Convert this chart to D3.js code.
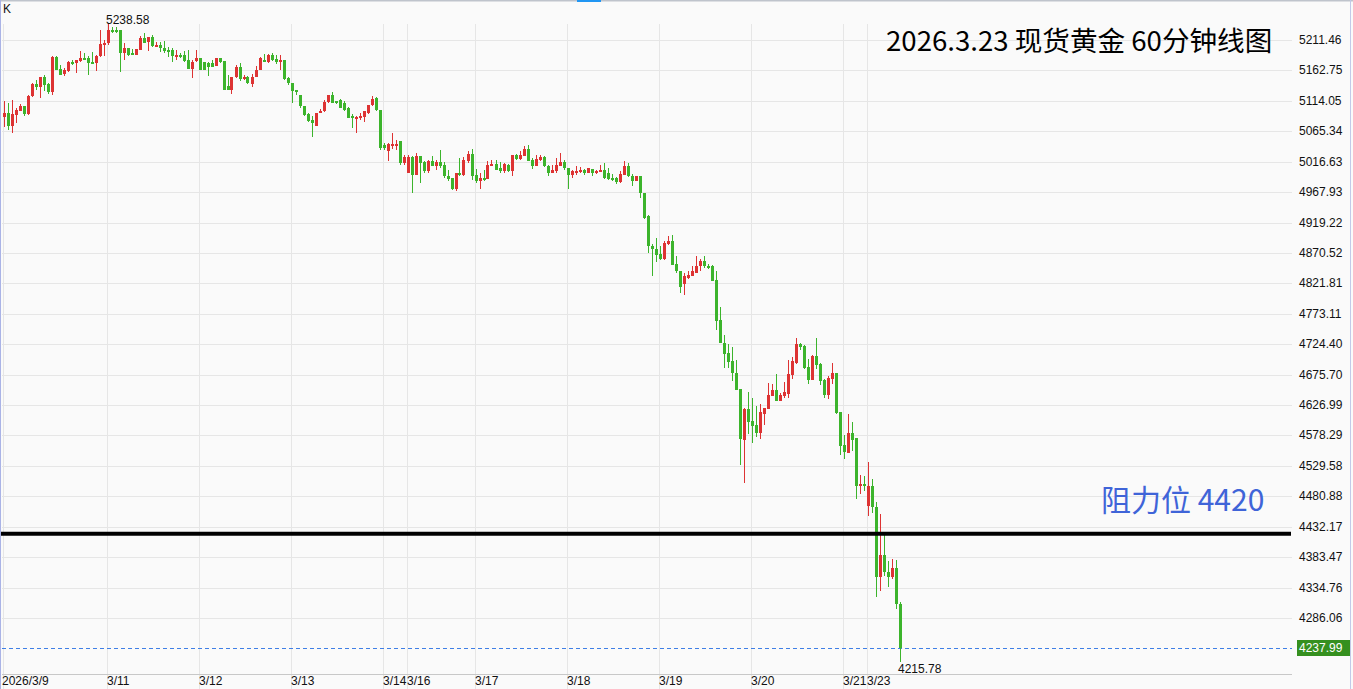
<!DOCTYPE html>
<html lang="zh">
<head>
<meta charset="utf-8">
<title>现货黄金 60分钟线图</title>
<script src="https://cdn.jsdelivr.net/npm/d3@7"></script>
<style>
  html, body { margin: 0; padding: 0; background: #fafafa; overflow: hidden; }
  svg { display: block; }
  .axis-text { font-family: "Liberation Sans", Arial, sans-serif; font-size: 12px; fill: #111; }
</style>
</head>
<body>
<div id="chart"></div>
<script>
var width = 1353, height = 689;

// 60-minute candles
var open = [5088,5094,5073,5092,5098,5105,5093,5122,5141,5137,5152,5141,5129,5185,5165,5157,5162,5177,5174,5178,
  5182,5182,5176,5174,5186,5204,5206,5227,5227,5227,5190,5198,5190,5187,5196,5215,5208,5216,5203,5203,
  5198,5196,5195,5186,5187,5187,5180,5165,5178,5183,5176,5175,5174,5170,5182,5178,5138,5131,5152,5169,
  5149,5153,5141,5153,5164,5180,5176,5187,5181,5176,5179,5150,5142,5131,5123,5105,5093,5083,5074,5094,
  5097,5112,5123,5113,5115,5110,5102,5090,5085,5086,5088,5094,5107,5118,5099,5043,5033,5044,5044,5049,
  5015,4999,5024,4996,5026,5016,5002,5018,5010,5016,5011,4994,4990,4973,4998,4995,5018,5029,4995,4985,
  4990,4989,5010,5013,5006,5001,5011,5001,5027,5021,5026,5037,5019,5009,5019,5024,5010,4999,5001,5010,
  5016,5006,4995,5001,5001,5003,4999,5005,4998,5001,5003,4999,4990,4990,4984,4996,5010,4994,4986,4993,
  4967,4930,4881,4877,4869,4861,4885,4890,4853,4842,4821,4831,4834,4839,4849,4858,4850,4850,4827,4763,
  4727,4710,4698,4679,4652,4571,4621,4601,4595,4582,4613,4621,4641,4651,4633,4641,4645,4675,4695,4725,
  4722,4688,4667,4706,4693,4667,4643,4669,4679,4616,4563,4551,4583,4575,4497,4500,4465,4498,4463,4352,
  4387,4360,4351,4366,4309];
var high = [5113,5110,5115,5102,5109,5106,5124,5142,5147,5153,5155,5142,5186,5186,5171,5166,5178,5180,5180,5194,
  5190,5186,5192,5187,5227,5211,5238.58,5233,5233,5227,5206,5198,5197,5197,5218,5223,5217,5219,5209,5209,
  5210,5201,5199,5195,5191,5194,5195,5179,5195,5183,5177,5177,5180,5183,5183,5178,5156,5153,5171,5174,
  5155,5154,5157,5170,5184,5189,5189,5191,5187,5187,5179,5152,5143,5132,5123,5106,5094,5090,5095,5101,
  5115,5124,5129,5114,5117,5113,5104,5093,5089,5094,5098,5108,5122,5120,5100,5046,5046,5062,5052,5049,
  5028,5028,5026,5030,5026,5018,5019,5026,5019,5035,5016,5003,4991,4999,5022,5024,5034,5037,5005,4998,
  5003,5018,5019,5020,5016,5014,5013,5027,5029,5033,5042,5043,5022,5027,5027,5026,5011,5011,5022,5030,
  5019,5007,5004,5009,5008,5005,5006,5005,5003,5011,5015,5006,4997,4992,5002,5017,5014,4997,4994,4993,
  4967,4931,4885,4894,4881,4890,4898,4899,4865,4842,4839,4842,4849,4866,4861,4866,4853,4851,4842,4784,
  4739,4724,4720,4699,4652,4622,4648,4639,4625,4629,4623,4663,4661,4677,4647,4664,4699,4704,4735,4727,
  4723,4701,4707,4735,4694,4668,4673,4695,4679,4616,4579,4613,4600,4575,4515,4514,4536,4509,4472,4452,
  4419,4377,4380,4379,4311];
var low = [5072,5068,5062,5079,5098,5089,5091,5120,5132,5118,5130,5125,5123,5163,5155,5154,5161,5172,5159,5177,
  5179,5155,5174,5162,5185,5186,5203,5222,5223,5161,5179,5186,5187,5187,5195,5207,5194,5201,5200,5193,
  5191,5185,5176,5179,5182,5177,5165,5150,5177,5163,5163,5154,5168,5170,5175,5131,5131,5125,5151,5146,
  5147,5141,5137,5152,5163,5176,5174,5178,5173,5164,5147,5139,5110,5123,5103,5090,5080,5056,5073,5094,
  5096,5110,5110,5109,5102,5098,5086,5071,5062,5083,5080,5093,5106,5098,5035,5035,5018,5037,5036,5011,
  5011,4999,4967,4996,4983,4998,4998,5010,5003,5006,4991,4985,4971,4970,4993,4994,5014,4987,4983,4973,
  4985,4989,5009,5003,4999,4999,5000,4994,5019,5019,5026,5017,5005,5009,5018,5008,4993,4998,4999,5009,
  5004,4973,4991,4995,4999,4995,4999,4993,4997,5000,4989,4988,4986,4981,4983,4995,4992,4978,4985,4959,
  4925,4871,4834,4856,4860,4860,4883,4851,4839,4807,4803,4828,4833,4838,4842,4847,4845,4826,4747,4726,
  4687,4687,4666,4651,4531,4502,4581,4567,4576,4573,4595,4620,4641,4633,4633,4639,4639,4669,4693,4715,
  4685,4661,4667,4685,4659,4639,4637,4661,4612,4547,4541,4551,4554,4477,4484,4490,4449,4454,4320,4329,
  4353,4335,4348,4301,4215.78];
var close = [5094,5073,5093,5099,5105,5093,5122,5141,5137,5152,5139,5129,5185,5164,5156,5163,5177,5174,5179,5183,
  5181,5174,5174,5186,5205,5207,5227,5226,5226,5190,5199,5187,5187,5197,5214,5207,5216,5202,5204,5198,
  5194,5193,5186,5188,5185,5178,5165,5177,5182,5163,5163,5169,5169,5182,5177,5132,5132,5152,5169,5149,
  5153,5142,5153,5164,5182,5176,5187,5179,5176,5179,5149,5142,5130,5129,5105,5091,5081,5078,5094,5098,
  5112,5123,5111,5110,5103,5099,5087,5086,5088,5089,5097,5107,5117,5099,5039,5038,5045,5045,5045,5014,
  5024,5024,4996,5026,5015,5002,5018,5010,5016,5010,4994,4989,4973,4998,4995,5019,5029,4994,4985,4990,
  4989,5011,5013,5003,5001,5013,5001,5027,5021,5027,5037,5018,5009,5021,5024,5009,4999,5003,5011,5016,
  5006,4995,5002,5002,5003,4999,5006,4998,5002,5003,4991,4989,4989,4984,4997,5009,4993,4986,4993,4966,
  4927,4881,4877,4867,4861,4887,4890,4851,4842,4816,4834,4835,4841,4850,4858,4849,4849,4826,4762,4726,
  4708,4696,4678,4651,4573,4620,4600,4593,4583,4616,4623,4643,4651,4633,4643,4648,4677,4697,4725,4720,
  4686,4667,4706,4691,4665,4643,4671,4679,4614,4561,4552,4583,4571,4497,4500,4497,4498,4463,4352,4387,
  4359,4351,4366,4309,4237.99];

var dateLabels = ["2026/3/9", "3/11", "3/12", "3/13", "3/14", "3/16", "3/17", "3/18", "3/19", "3/20", "3/21", "3/23"];
var dateIndex  = [0, 26, 49, 72, 95, 101, 118, 141, 164, 187, 210, 216];

var priceTicks = [5211.46, 5162.75, 5114.05, 5065.34, 5016.63, 4967.93, 4919.22, 4870.52, 4821.81, 4773.11,
  4724.40, 4675.70, 4626.99, 4578.29, 4529.58, 4480.88, 4432.17, 4383.47, 4334.76, 4286.06];
var lastPrice = 4237.99;
var resistance = 4420;
var titleText = "2026.3.23 现货黄金 60分钟线图";
var resistanceText = "阻力位 4420";

var upColor = "#dd3333", downColor = "#3cb42c", gridColor = "#e6e6e6";
var plotRight = 1292;

var svg = d3.select("#chart").append("svg")
    .attr("width", width)
    .attr("height", height);

svg.append("rect").attr("width", width).attr("height", height).attr("fill", "#fafafa");

var x = d3.scaleLinear().domain([0, close.length - 1]).range([3.5, 3.5 + 4 * (close.length - 1)]);
var y = d3.scaleLinear().domain([lastPrice, priceTicks[0]]).range([648, 40]);

function px(v) { return Math.round(v) + 0.5; }

// grid
svg.append("g").selectAll("line")
  .data(priceTicks)
  .enter().append("line")
    .attr("x1", 2).attr("x2", plotRight)
    .attr("y1", function(d) { return px(y(d)); })
    .attr("y2", function(d) { return px(y(d)); })
    .attr("stroke", gridColor);

svg.append("g").selectAll("line")
  .data(dateIndex)
  .enter().append("line")
    .attr("x1", function(d) { return Math.floor(x(d)) + 0.5; })
    .attr("x2", function(d) { return Math.floor(x(d)) + 0.5; })
    .attr("y1", 24).attr("y2", height)
    .attr("stroke", gridColor);

// bottom axis line
svg.append("line")
  .attr("x1", 2).attr("x2", plotRight)
  .attr("y1", 674.5).attr("y2", 674.5)
  .attr("stroke", "#c8c8c8");

// last price dashed line
svg.append("line")
  .attr("x1", 2).attr("x2", plotRight)
  .attr("y1", px(y(lastPrice))).attr("y2", px(y(lastPrice)))
  .attr("stroke", "#3f7fe6")
  .attr("stroke-dasharray", "4,3");

// candles
var idx = d3.range(close.length);
var candles = svg.append("g").selectAll("g")
  .data(idx)
  .enter().append("g")
    .attr("fill", function(i) { return close[i] > open[i] ? upColor : downColor; });

candles.append("rect")
  .attr("x", function(i) { return Math.round(x(i)); })
  .attr("width", 1)
  .attr("y", function(i) { return Math.round(y(high[i])); })
  .attr("height", function(i) { return Math.max(1, Math.round(y(low[i])) - Math.round(y(high[i]))); });

candles.append("rect")
  .attr("x", function(i) { return Math.round(x(i)) - 1; })
  .attr("width", 3)
  .attr("y", function(i) { return Math.round(y(Math.max(open[i], close[i]))); })
  .attr("height", function(i) {
    return Math.max(2, Math.round(y(Math.min(open[i], close[i]))) - Math.round(y(Math.max(open[i], close[i]))));
  });

// resistance line
svg.append("line")
  .attr("x1", 0).attr("x2", plotRight - 1)
  .attr("y1", y(resistance) - 0.5).attr("y2", y(resistance) - 0.5)
  .attr("stroke", "#000")
  .attr("stroke-width", 4);

// right price labels
svg.append("g").selectAll("text")
  .data(priceTicks)
  .enter().append("text")
    .attr("class", "axis-text")
    .attr("x", 1299)
    .attr("y", function(d) { return Math.round(y(d)) + 4; })
    .text(function(d) { return d3.format(".2f")(d); });

svg.append("rect")
  .attr("x", 1297).attr("y", Math.round(y(lastPrice)) - 8)
  .attr("width", 53).attr("height", 16)
  .attr("fill", "#35901f");
svg.append("text")
  .attr("class", "axis-text")
  .attr("x", 1299)
  .attr("y", Math.round(y(lastPrice)) + 4)
  .style("fill", "#fff")
  .text(d3.format(".2f")(lastPrice));

// date labels
svg.append("g").selectAll("text")
  .data(dateIndex)
  .enter().append("text")
    .attr("class", "axis-text")
    .attr("x", function(d, k) { return k === 0 ? 2 : Math.floor(x(d)); })
    .attr("y", 685)
    .text(function(d, k) { return dateLabels[k]; });

// high / low marks
var hiMax = d3.max(high), hiIdx = high.indexOf(hiMax);
var loMin = d3.min(low), loIdx = low.indexOf(loMin);
svg.append("text")
  .attr("class", "axis-text")
  .attr("x", Math.floor(x(hiIdx)) - 1)
  .attr("y", y(hiMax) + 0.5)
  .text(d3.format(".2f")(hiMax));
svg.append("text")
  .attr("class", "axis-text")
  .attr("x", Math.floor(x(loIdx)) - 1)
  .attr("y", y(loMin) + 11)
  .text(d3.format(".2f")(loMin));

svg.append("text")
  .attr("class", "axis-text")
  .attr("x", 3).attr("y", 13)
  .text("K");

// titles
svg.append("text")
  .attr("x", 886).attr("y", 51)
  .style("font-family", "'Noto Sans CJK SC', 'Noto Sans', sans-serif")
  .style("font-size", "27.6px")
  .style("fill", "#000")
  .text(titleText);

svg.append("text")
  .attr("x", 1101).attr("y", 511)
  .style("font-family", "'Noto Sans CJK SC', 'Noto Sans', sans-serif")
  .style("font-size", "30px")
  .style("fill", "#3f64d8")
  .text(resistanceText);

// frame
svg.append("line").attr("x1", 0).attr("x2", width).attr("y1", 0.5).attr("y2", 0.5).attr("stroke", "#bfc4cc").attr("stroke-width", 2);
svg.append("line").attr("x1", 0.5).attr("x2", 0.5).attr("y1", 0).attr("y2", height).attr("stroke", "#aab3e6");
svg.append("line").attr("x1", 1350.5).attr("x2", 1350.5).attr("y1", 0).attr("y2", height).attr("stroke", "#c3c9e8");
svg.append("rect").attr("x", 577).attr("y", 0).attr("width", 24).attr("height", 2).attr("fill", "#2196f3");
</script>
</body>
</html>
